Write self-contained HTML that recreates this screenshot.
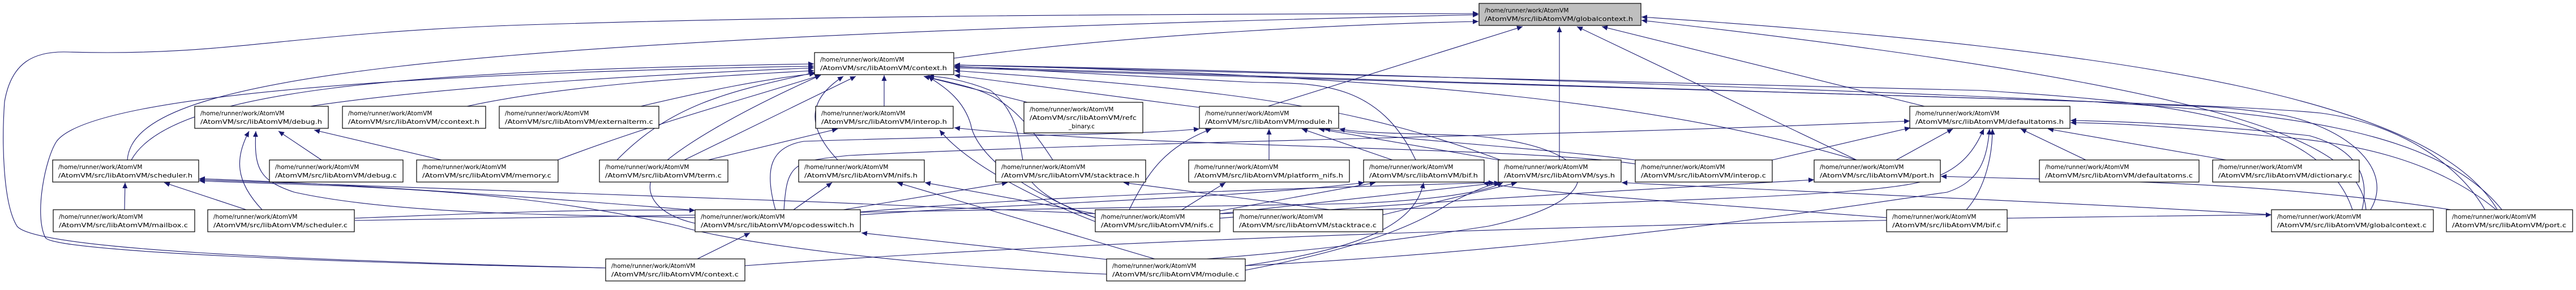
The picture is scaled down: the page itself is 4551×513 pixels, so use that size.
<!DOCTYPE html>
<html><head><meta charset="utf-8"><style>
html,body{margin:0;padding:0;background:#fff;}
svg{display:block;}
text{font-family:"DejaVu Sans","Liberation Sans",sans-serif;font-size:10.5px;fill:#000;}
.n{fill:#fff;stroke:#000;stroke-width:1.2;}
.e{fill:none;stroke:#191970;stroke-width:1.1;marker-end:url(#a);}
</style></head><body>
<svg width="4551" height="513" viewBox="0 0 4551 513" xmlns="http://www.w3.org/2000/svg">
<defs><marker id="a" markerUnits="userSpaceOnUse" markerWidth="11" markerHeight="9" refX="10" refY="4.5" orient="auto"><path d="M0,0 L10,4.5 L0,9 z" fill="#191970"/></marker></defs>

<!-- edges to globalcontext.h -->
<path class="e" d="M1685,103 C2000,60 2400,42 2612,38"/>
<path class="e" d="M225,283 C235,140 700,70 2612,26"/>
<path class="e" d="M1070,474 C500,460 60,440 30,400 C5,360 3,250 8,180 C20,110 60,90 120,92 C400,100 500,60 900,45 C1500,25 2200,25 2612,24"/>
<path class="e" d="M2240,188 L2690,47"/>
<path class="e" d="M2755,283 L2755,47"/>
<path class="e" d="M3280,283 L2786,47"/>
<path class="e" d="M3400,188 L2830,47"/>
<path class="e" d="M4180,371 C4170,260 4000,160 2900,36"/>
<path class="e" d="M4412,371 C4300,180 3800,90 2900,30"/>

<!-- edges to context.h -->
<path class="e" d="M548,188 C800,150 1200,130 1438,120"/>
<path class="e" d="M825,188 C1000,150 1250,135 1438,125"/>
<path class="e" d="M1132,188 C1250,160 1350,140 1440,130"/>
<path class="e" d="M232,283 C300,160 700,125 1438,113"/>
<path class="e" d="M1070,474 C600,465 90,445 80,420 C60,380 80,280 100,250 C160,170 700,130 1438,117"/>
<path class="e" d="M985,283 C1150,220 1300,180 1450,133"/>
<path class="e" d="M1209,283 L1512,135"/>
<path class="e" d="M1562,188 L1562,133"/>
<path class="e" d="M1480,283 C1430,230 1420,180 1490,135"/>
<path class="e" d="M1935,385 C1760,320 1720,250 1715,220 C1700,170 1660,150 1640,135"/>
<path class="e" d="M1860,283 C1780,160 1740,160 1632,135"/>
<path class="e" d="M1815,181 L1632,135"/>
<path class="e" d="M2119,190 L1686,133"/>
<path class="e" d="M2501,283 C2430,130 2300,150 2200,145 L1686,117"/>
<path class="e" d="M2651,283 C2400,190 2200,160 1686,125"/>
<path class="e" d="M3279,283 C3000,200 2600,135 1686,115"/>
<path class="e" d="M4156,371 C4100,200 3800,180 3500,160 C3000,150 2300,130 1686,115"/>
<path class="e" d="M4420,371 C4300,220 4000,200 3700,180 C3300,160 2300,125 1686,115"/>
<path class="e" d="M1090,283 C1190,180 1300,160 1440,128"/>
<path class="e" d="M1228,395 C1160,380 1130,340 1160,300 C1200,260 1300,200 1450,133"/>

<!-- debug.h -->
<path class="e" d="M568,283 L492,232"/>
<path class="e" d="M780,283 L555,230"/>
<path class="e" d="M463,371 C415,320 415,280 440,232"/>
<path class="e" d="M1228,385 C1000,380 700,380 520,340 C460,320 448,300 452,232"/>

<!-- scheduler.h -->
<path class="e" d="M220,371 L221,323"/>
<path class="e" d="M435,371 L290,323"/>
<path class="e" d="M1228,372 C900,345 600,325 352,316"/>
<path class="e" d="M1935,378 C1400,355 800,330 352,318"/>
<path class="e" d="M1955,485 C1600,470 1300,430 1200,400 C900,330 600,330 352,320"/>

<!-- opcodesswitch.h -->
<path class="e" d="M1232,458 L1325,412"/>
<path class="e" d="M1975,461 L1522,412"/>
<path class="e" d="M627,386 C900,375 1050,370 1228,372"/>

<!-- nifs.h -->
<path class="e" d="M1402,371 L1470,323"/>
<path class="e" d="M1935,378 L1634,323"/>
<path class="e" d="M2040,458 L1585,323"/>

<!-- stacktrace.h -->
<path class="e" d="M1490,371 L1780,323"/>
<path class="e" d="M2350,371 L1985,323"/>
<path class="e" d="M1935,385 C1860,360 1820,330 1810,300 C1800,250 1800,200 1750,160 C1700,140 1660,135 1640,135"/>

<!-- interop.h -->
<path class="e" d="M1935,392 C1800,340 1700,280 1660,230"/>
<path class="e" d="M2889,290 C2700,260 2000,260 1686,226"/>
<path class="e" d="M1251,283 L1480,228"/>

<!-- module.h -->
<path class="e" d="M1370,371 C1350,300 1360,260 1420,250 C1700,240 2000,240 2119,228"/>
<path class="e" d="M1995,371 C2030,300 2060,260 2140,228"/>
<path class="e" d="M2242,283 L2242,228"/>
<path class="e" d="M2460,283 L2300,228"/>
<path class="e" d="M2647,283 L2330,228"/>
<path class="e" d="M2889,283 C2700,260 2500,250 2340,228"/>
<path class="e" d="M1955,470 C2300,450 2500,420 2630,400 C2860,350 2830,260 2600,240 C2450,235 2400,235 2366,228"/>
<path class="e" d="M1385,371 C1390,290 1400,285 1500,275 C2000,250 2800,240 3374,214"/>

<!-- platform_nifs.h -->
<path class="e" d="M2088,371 L2165,323"/>

<!-- bif.h -->
<path class="e" d="M2155,373 L2430,323"/>
<path class="e" d="M3333,385 C3000,360 2700,340 2620,323"/>
<path class="e" d="M2200,470 C2400,440 2500,400 2515,323"/>
<path class="e" d="M1520,380 C1800,360 2200,350 2410,323"/>

<!-- sys.h -->
<path class="e" d="M2155,378 L2650,323"/>
<path class="e" d="M2200,478 C2400,440 2500,400 2560,360 C2600,340 2620,330 2650,323"/>
<path class="e" d="M2443,380 L2680,323"/>
<path class="e" d="M4013,380 C3700,360 3200,340 2865,323"/>
<path class="e" d="M627,390 C1200,380 2000,370 2400,360 C2600,350 2640,330 2655,323"/>
<path class="e" d="M1520,375 C1800,350 2200,335 2640,323"/>

<!-- port.h -->
<path class="e" d="M4330,371 C4000,320 3700,320 3429,312"/>
<path class="e" d="M2155,386 C2600,350 3000,330 3205,318"/>

<!-- defaultatoms.h -->
<path class="e" d="M3131,283 L3375,226"/>
<path class="e" d="M3350,283 L3450,228"/>
<path class="e" d="M3474,371 C3510,330 3520,270 3520,228"/>
<path class="e" d="M2155,378 C2800,360 3300,350 3400,320 C3470,300 3490,260 3505,228"/>
<path class="e" d="M2200,470 C2800,440 3300,360 3440,340 C3500,320 3510,280 3515,228"/>
<path class="e" d="M3685,283 L3570,228"/>
<path class="e" d="M3933,283 L3618,228"/>
<path class="e" d="M4173,371 C4190,300 4150,260 4080,240 C3900,220 3750,215 3658,213"/>
<path class="e" d="M4410,371 C4300,280 4150,250 4000,240 C3850,225 3750,218 3658,217"/>

<!-- globalcontext.c/port.c misc -->
<path class="e" d="M4188,371 C4230,300 4150,230 4040,205 C3900,180 3800,190 3700,180 C3500,170 3200,170 1686,118"/>
<path class="e" d="M4390,371 C4350,300 4250,220 4100,200 C3900,180 3300,170 1686,120"/>
<path class="e" d="M1316,470 C2000,420 3000,390 4013,380"/>

<!-- nodes -->
<g>
<rect x="2613" y="6" width="286" height="39" fill="#bfbfbf" stroke="#000" stroke-width="1.2"/>
<text x="2623" y="22">/home/runner/work/AtomVM</text><text x="2623" y="37" textLength="262" lengthAdjust="spacingAndGlyphs">/AtomVM/src/libAtomVM/globalcontext.h</text>
</g>

<g>
<rect class="n" x="1439" y="93" width="246" height="39"/><text x="1449" y="109">/home/runner/work/AtomVM</text><text x="1449" y="124" textLength="224" lengthAdjust="spacingAndGlyphs">/AtomVM/src/libAtomVM/context.h</text>

<rect class="n" x="344" y="188" width="236" height="39"/><text x="354" y="204">/home/runner/work/AtomVM</text><text x="354" y="219" textLength="215" lengthAdjust="spacingAndGlyphs">/AtomVM/src/libAtomVM/debug.h</text>
<rect class="n" x="605" y="188" width="253" height="39"/><text x="615" y="204">/home/runner/work/AtomVM</text><text x="615" y="219" textLength="232" lengthAdjust="spacingAndGlyphs">/AtomVM/src/libAtomVM/ccontext.h</text>
<rect class="n" x="882" y="188" width="282" height="39"/><text x="892" y="204">/home/runner/work/AtomVM</text><text x="892" y="219" textLength="262" lengthAdjust="spacingAndGlyphs">/AtomVM/src/libAtomVM/externalterm.c</text>
<rect class="n" x="1441" y="188" width="243" height="39"/><text x="1451" y="204">/home/runner/work/AtomVM</text><text x="1451" y="219" textLength="222" lengthAdjust="spacingAndGlyphs">/AtomVM/src/libAtomVM/interop.h</text>
<rect class="n" x="1809" y="181" width="210" height="54"/><text x="1819" y="197">/home/runner/work/AtomVM</text><text x="1819" y="212" textLength="189" lengthAdjust="spacingAndGlyphs">/AtomVM/src/libAtomVM/refc</text><text x="1888" y="227">_binary.c</text>
<rect class="n" x="2119" y="188" width="246" height="39"/><text x="2129" y="204">/home/runner/work/AtomVM</text><text x="2129" y="219" textLength="225" lengthAdjust="spacingAndGlyphs">/AtomVM/src/libAtomVM/module.h</text>
<rect class="n" x="3374" y="188" width="283" height="39"/><text x="3384" y="204">/home/runner/work/AtomVM</text><text x="3384" y="219" textLength="262" lengthAdjust="spacingAndGlyphs">/AtomVM/src/libAtomVM/defaultatoms.h</text>

<rect class="n" x="93" y="283" width="258" height="39"/><text x="103" y="299">/home/runner/work/AtomVM</text><text x="103" y="314" textLength="237" lengthAdjust="spacingAndGlyphs">/AtomVM/src/libAtomVM/scheduler.h</text>
<rect class="n" x="476" y="283" width="236" height="39"/><text x="486" y="299">/home/runner/work/AtomVM</text><text x="486" y="314" textLength="215" lengthAdjust="spacingAndGlyphs">/AtomVM/src/libAtomVM/debug.c</text>
<rect class="n" x="736" y="283" width="250" height="39"/><text x="746" y="299">/home/runner/work/AtomVM</text><text x="746" y="314" textLength="228" lengthAdjust="spacingAndGlyphs">/AtomVM/src/libAtomVM/memory.c</text>
<rect class="n" x="1059" y="283" width="227" height="39"/><text x="1069" y="299">/home/runner/work/AtomVM</text><text x="1069" y="314" textLength="206" lengthAdjust="spacingAndGlyphs">/AtomVM/src/libAtomVM/term.c</text>
<rect class="n" x="1411" y="283" width="222" height="39"/><text x="1421" y="299">/home/runner/work/AtomVM</text><text x="1421" y="314" textLength="200" lengthAdjust="spacingAndGlyphs">/AtomVM/src/libAtomVM/nifs.h</text>
<rect class="n" x="1759" y="283" width="265" height="39"/><text x="1769" y="299">/home/runner/work/AtomVM</text><text x="1769" y="314" textLength="244" lengthAdjust="spacingAndGlyphs">/AtomVM/src/libAtomVM/stacktrace.h</text>
<rect class="n" x="2100" y="283" width="284" height="39"/><text x="2110" y="299">/home/runner/work/AtomVM</text><text x="2110" y="314" textLength="263" lengthAdjust="spacingAndGlyphs">/AtomVM/src/libAtomVM/platform_nifs.h</text>
<rect class="n" x="2409" y="283" width="213" height="39"/><text x="2419" y="299">/home/runner/work/AtomVM</text><text x="2419" y="314" textLength="192" lengthAdjust="spacingAndGlyphs">/AtomVM/src/libAtomVM/bif.h</text>
<rect class="n" x="2647" y="283" width="217" height="39"/><text x="2657" y="299">/home/runner/work/AtomVM</text><text x="2657" y="314" textLength="196" lengthAdjust="spacingAndGlyphs">/AtomVM/src/libAtomVM/sys.h</text>
<rect class="n" x="2889" y="283" width="242" height="39"/><text x="2899" y="299">/home/runner/work/AtomVM</text><text x="2899" y="314" textLength="221" lengthAdjust="spacingAndGlyphs">/AtomVM/src/libAtomVM/interop.c</text>
<rect class="n" x="3205" y="283" width="223" height="39"/><text x="3215" y="299">/home/runner/work/AtomVM</text><text x="3215" y="314" textLength="202" lengthAdjust="spacingAndGlyphs">/AtomVM/src/libAtomVM/port.h</text>
<rect class="n" x="3603" y="283" width="282" height="39"/><text x="3613" y="299">/home/runner/work/AtomVM</text><text x="3613" y="314" textLength="261" lengthAdjust="spacingAndGlyphs">/AtomVM/src/libAtomVM/defaultatoms.c</text>
<rect class="n" x="3909" y="283" width="259" height="39"/><text x="3919" y="299">/home/runner/work/AtomVM</text><text x="3919" y="314" textLength="237" lengthAdjust="spacingAndGlyphs">/AtomVM/src/libAtomVM/dictionary.c</text>

<rect class="n" x="94" y="371" width="250" height="39"/><text x="104" y="387">/home/runner/work/AtomVM</text><text x="104" y="402" textLength="228" lengthAdjust="spacingAndGlyphs">/AtomVM/src/libAtomVM/mailbox.c</text>
<rect class="n" x="367" y="371" width="259" height="39"/><text x="377" y="387">/home/runner/work/AtomVM</text><text x="377" y="402" textLength="237" lengthAdjust="spacingAndGlyphs">/AtomVM/src/libAtomVM/scheduler.c</text>
<rect class="n" x="1228" y="371" width="292" height="39"/><text x="1238" y="387">/home/runner/work/AtomVM</text><text x="1238" y="402" textLength="271" lengthAdjust="spacingAndGlyphs">/AtomVM/src/libAtomVM/opcodesswitch.h</text>
<rect class="n" x="1935" y="371" width="220" height="39"/><text x="1945" y="387">/home/runner/work/AtomVM</text><text x="1945" y="402" textLength="199" lengthAdjust="spacingAndGlyphs">/AtomVM/src/libAtomVM/nifs.c</text>
<rect class="n" x="2179" y="371" width="264" height="39"/><text x="2189" y="387">/home/runner/work/AtomVM</text><text x="2189" y="402" textLength="243" lengthAdjust="spacingAndGlyphs">/AtomVM/src/libAtomVM/stacktrace.c</text>
<rect class="n" x="3333" y="371" width="213" height="39"/><text x="3343" y="387">/home/runner/work/AtomVM</text><text x="3343" y="402" textLength="192" lengthAdjust="spacingAndGlyphs">/AtomVM/src/libAtomVM/bif.c</text>
<rect class="n" x="4013" y="371" width="286" height="39"/><text x="4023" y="387">/home/runner/work/AtomVM</text><text x="4023" y="402" textLength="264" lengthAdjust="spacingAndGlyphs">/AtomVM/src/libAtomVM/globalcontext.c</text>
<rect class="n" x="4322" y="371" width="223" height="39"/><text x="4332" y="387">/home/runner/work/AtomVM</text><text x="4332" y="402" textLength="202" lengthAdjust="spacingAndGlyphs">/AtomVM/src/libAtomVM/port.c</text>

<rect class="n" x="1070" y="458" width="246" height="39"/><text x="1080" y="474">/home/runner/work/AtomVM</text><text x="1080" y="489" textLength="225" lengthAdjust="spacingAndGlyphs">/AtomVM/src/libAtomVM/context.c</text>
<rect class="n" x="1955" y="458" width="245" height="39"/><text x="1965" y="474">/home/runner/work/AtomVM</text><text x="1965" y="489" textLength="224" lengthAdjust="spacingAndGlyphs">/AtomVM/src/libAtomVM/module.c</text>
</g>
</svg>
</body></html>
